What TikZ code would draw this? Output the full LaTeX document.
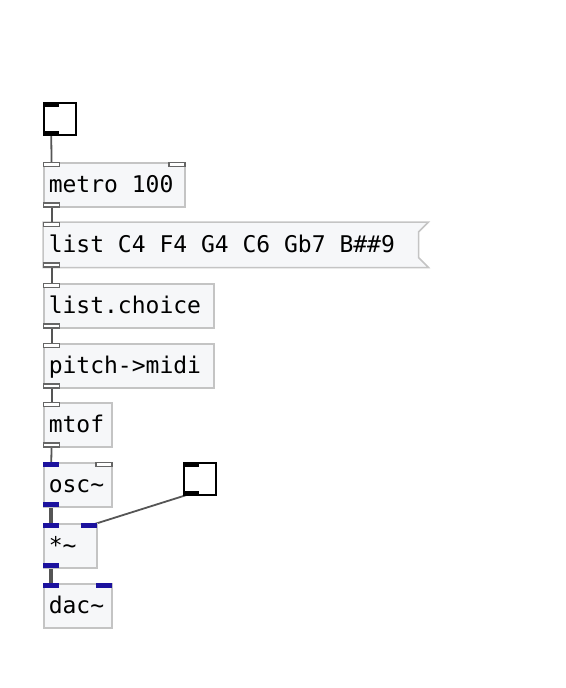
\documentclass[tikz,border=0pt]{standalone}
\usepackage{fontspec}
\newfontfamily\pdmono{DejaVu Sans Mono}
\usetikzlibrary{backgrounds}
\definecolor{boxgrey}{RGB}{196,196,196}
\definecolor{boxfill}{RGB}{246,247,249}
\definecolor{sigblue}{RGB}{28,18,158}
\definecolor{cordgrey}{RGB}{85,85,85}
\newcommand{\pdfont}{\pdmono\fontsize{23}{23}\selectfont}
\tikzset{
  pdbox/.style={draw=boxgrey, fill=boxfill, line width=1.5pt, anchor=north west,
    minimum height=44pt, inner xsep=5pt, inner ysep=0pt, text width=#1, align=left,
    text height=19pt, text depth=4pt, font=\pdfont,
    execute at begin node={\spaceskip=0.602em\xspaceskip=0.602em\relax}},
  toggle/.style={draw=black, fill=white, line width=2pt, anchor=north west,
    minimum width=32pt, minimum height=32pt, inner sep=0pt},
  ctlport/.style={draw=cordgrey!90, fill=white, line width=1.2pt, minimum width=16pt,
    minimum height=4pt, inner sep=0pt},
  sigport/.style={fill=sigblue, minimum width=16pt, minimum height=5pt, inner sep=0pt},
  tglport/.style={fill=black, minimum width=16pt, minimum height=4.5pt, inner sep=0pt},
  ctl/.style={draw=cordgrey, line width=1.8pt},
  sig/.style={draw=cordgrey, line width=3.5pt},
}
\begin{document}
\begin{tikzpicture}[x=1pt, y=-1pt]
    \useasboundingbox (0,0) rectangle (565,688);

    % Objects
    \node[toggle] (tgl1) at (43,102) {};
    \node[pdbox=131pt] (metro) at (43,162) {metro 100};
    \node[pdbox=374pt, draw=none, fill=none] (msg) at (43,222) {list C4 F4 G4 C6 Gb7 B\#\#9};
    \node[pdbox=160pt] (choice) at (43,283) {list.choice};
    \node[pdbox=160pt] (ptm) at (43,343) {pitch->midi};
    \node[pdbox=58pt] (mtof) at (43,402) {mtof};
    \node[pdbox=58pt] (osc) at (43,462) {osc\textasciitilde};
    \node[toggle] (tgl2) at (183,462) {};
    \node[pdbox=43pt] (mul) at (43,523) {*\textasciitilde};
    \node[pdbox=58pt] (dac) at (43,583) {dac\textasciitilde};

    % Inlets and outlets
    \node[tglport, anchor=north west] (tgl1-in) at (tgl1.north west) {};
    \node[tglport, anchor=south west] (tgl1-out) at (tgl1.south west) {};
    \node[ctlport, anchor=north west] (metro-in1) at (metro.north west) {};
    \node[ctlport, anchor=north east] (metro-in2) at (metro.north east) {};
    \node[ctlport, anchor=south west] (metro-out) at (metro.south west) {};
    \node[ctlport, anchor=north west] (msg-in) at (msg.north west) {};
    \node[ctlport, anchor=south west] (msg-out) at (msg.south west) {};
    \node[ctlport, anchor=north west] (choice-in) at (choice.north west) {};
    \node[ctlport, anchor=south west] (choice-out) at (choice.south west) {};
    \node[ctlport, anchor=north west] (ptm-in) at (ptm.north west) {};
    \node[ctlport, anchor=south west] (ptm-out) at (ptm.south west) {};
    \node[ctlport, anchor=north west] (mtof-in) at (mtof.north west) {};
    \node[ctlport, anchor=south west] (mtof-out) at (mtof.south west) {};
    \node[sigport, anchor=north west] (osc-in1) at (osc.north west) {};
    \node[ctlport, anchor=north east] (osc-in2) at (osc.north east) {};
    \node[sigport, anchor=south west] (osc-out) at (osc.south west) {};
    \node[tglport, anchor=north west] (tgl2-in) at (tgl2.north west) {};
    \node[tglport, anchor=south west] (tgl2-out) at (tgl2.south west) {};
    \node[sigport, anchor=north west] (mul-in1) at (mul.north west) {};
    \node[sigport, anchor=north east] (mul-in2) at (mul.north east) {};
    \node[sigport, anchor=south west] (mul-out) at (mul.south west) {};
    \node[sigport, anchor=north west] (dac-in1) at (dac.north west) {};
    \node[sigport, anchor=north east] (dac-in2) at (dac.north east) {};

    % Message box flag and cords
    \begin{scope}[on background layer]
        \draw[draw=boxgrey, fill=boxfill, line width=1.5pt] (msg.north west) -- (msg.north east)
            -- ([shift={(-10,10)}]msg.north east) -- ([shift={(-10,-10)}]msg.south east)
            -- (msg.south east) -- (msg.south west) -- cycle;
        \draw[ctl] (tgl1-out.center) -- (metro-in1.center);
        \draw[ctl] (metro-out.center) -- (msg-in.center);
        \draw[ctl] (msg-out.center) -- (choice-in.center);
        \draw[ctl] (choice-out.center) -- (ptm-in.center);
        \draw[ctl] (ptm-out.center) -- (mtof-in.center);
        \draw[ctl] (mtof-out.center) -- (osc-in1.center);
        \draw[sig] (osc-out.center) -- (mul-in1.center);
        \draw[ctl] (tgl2-out.center) -- (mul-in2.center);
        \draw[sig] (mul-out.center) -- (dac-in1.center);
    \end{scope}
\end{tikzpicture}
\end{document}
